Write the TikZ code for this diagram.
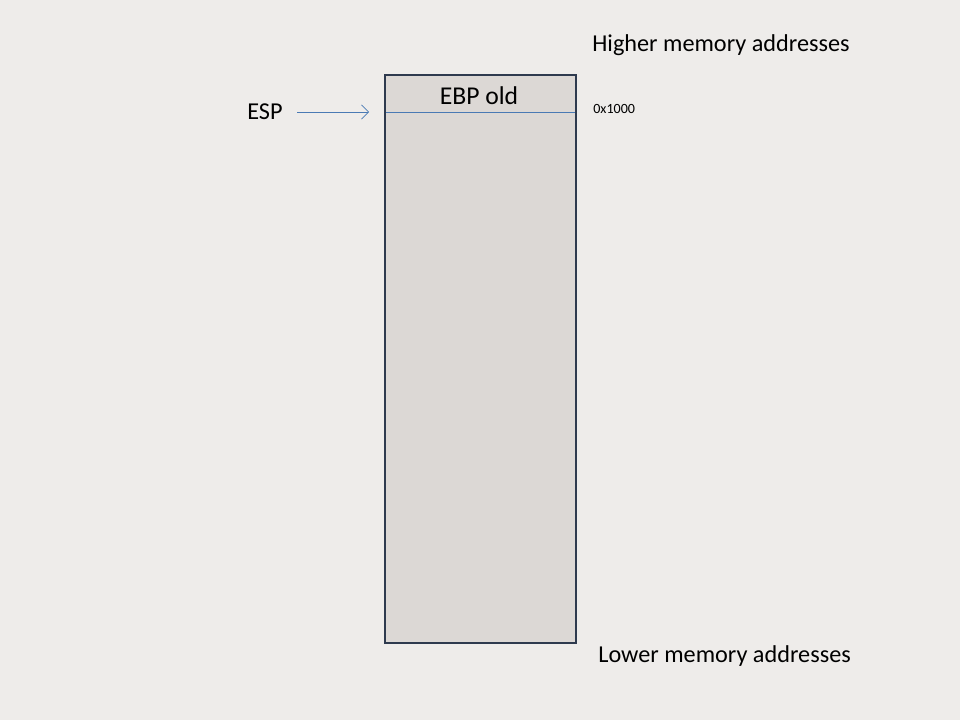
\documentclass[tikz,border=0pt]{standalone}
\usepackage{fontspec}
\setmainfont{Carlito}
\usepackage{xcolor}
\usetikzlibrary{arrows.meta}

\definecolor{slidebg}{HTML}{EEECEA}
\definecolor{cellfill}{HTML}{DCD8D5}
\definecolor{cellline}{HTML}{2E3A4E}
\definecolor{ptrblue}{HTML}{4A7AB4}

\begin{document}
\begin{tikzpicture}[x=0.02cm, y=-0.02cm,
    label text/.style={inner sep=0pt, anchor=west, font=\fontsize{13.8}{16}\selectfont},
    addr text/.style={inner sep=0pt, anchor=west, font=\fontsize{8}{10}\selectfont}]
      % Background
      \fill[slidebg] (0,0) rectangle (960,720);
      \useasboundingbox (0,0) rectangle (960,720);

      % Stack
      \fill[cellfill] (385,75) rectangle (576,643);
      \draw[ptrblue] (385,112) -- (576,112);
      \draw[cellline, line width=1.4pt] (385,75) rectangle (576,643);
      \node[inner sep=0pt, font=\fontsize{14.6}{17}\selectfont] (ebp) at (479,96) {EBP old};

      % Pointer
      \node[label text] (esp) at (247,112) {ESP};
      \coordinate (top) at (369,112);
      \draw[ptrblue, -{Straight Barb[length=4pt, width=8pt]}] (297,112) -- (top);

      % Addresses
      \node[addr text] (addr) at (593,109) {0x1000};
      \node[label text] (high) at (592,45) {Higher memory addresses};
      \node[label text] (low) at (598,656) {Lower memory addresses};
\end{tikzpicture}
\end{document}
